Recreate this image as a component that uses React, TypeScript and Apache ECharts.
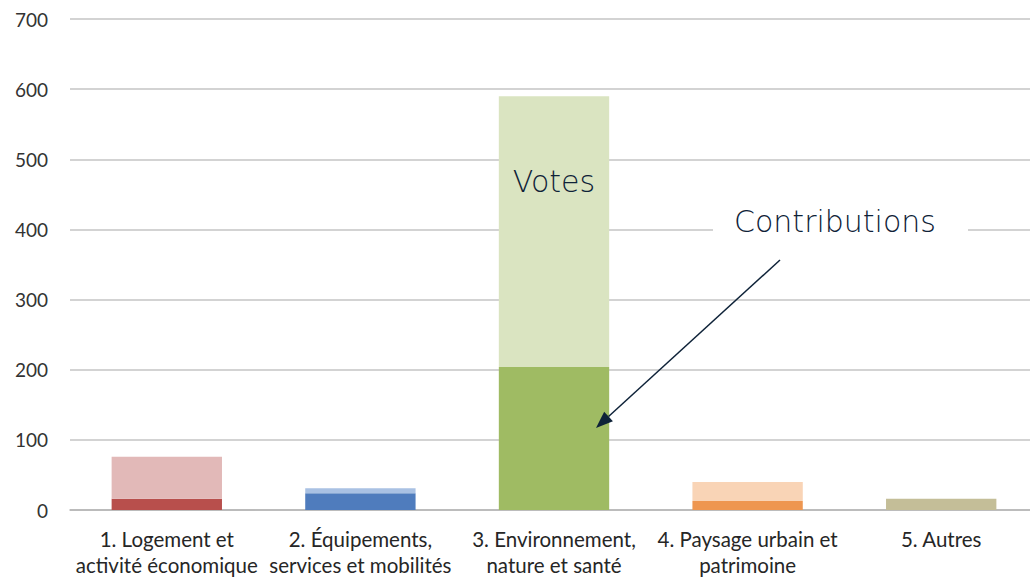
import React, { useEffect, useRef } from "react";
import * as echarts from "echarts";

const categories = [
  "1. Logement et\nactivité économique",
  "2. Équipements,\nservices et mobilités",
  "3. Environnement,\nnature et santé",
  "4. Paysage urbain et\npatrimoine",
  "5. Autres",
];
const contributions = [16, 24, 204, 13, 16];
const votes = [60, 7, 386, 27, 0];
const darkColors = ["#b84f4c", "#4f7cbd", "#9fbb63", "#ee9650", "#c4be98"];
const lightColors = ["#e2b9b8", "#a9c1e3", "#dae4c1", "#f9d4b6", "#e0ddc8"];
const yTicks = [0, 100, 200, 300, 400, 500, 600, 700];

export default function App() {
  const ref = useRef<HTMLDivElement>(null);
  useEffect(() => {
    if (!ref.current) return;
    const chart = echarts.init(ref.current, null, { renderer: "svg" });
    const tip = [596, 428];
    const from = [780, 260];
    const dx = tip[0] - from[0];
    const dy = tip[1] - from[1];
    const len = Math.sqrt(dx * dx + dy * dy);
    const ux = dx / len;
    const uy = dy / len;
    const hl = 17;
    const hw = 6.5;
    const bx = tip[0] - ux * hl;
    const by = tip[1] - uy * hl;
    const nx = -uy;
    const ny = ux;
    chart.setOption({
      animation: false,
      grid: {
        left: 70,
        width: 968,
        top: 19,
        height: 491,
        containLabel: false,
        outerBoundsMode: "none",
      },
      xAxis: {
        type: "category",
        data: categories,
        axisTick: { show: false },
        axisLine: { show: true, lineStyle: { color: "#b4b4b4", width: 1.5 } },
        axisLabel: {
          interval: 0,
          margin: 16,
          color: "#262626",
          fontFamily: "Lato",
          fontSize: 20.5,
          lineHeight: 26,
        },
      },
      yAxis: {
        type: "value",
        min: 0,
        max: 700,
        interval: 100,
        axisLine: { show: false },
        axisTick: { show: false },
        splitLine: { lineStyle: { color: "#c4c4c4", width: 1.5 } },
        axisLabel: {
          margin: 22,
          color: "#333333",
          fontFamily: "Lato",
          fontSize: 19,
          formatter: (v: number) => (yTicks.includes(v) ? String(v) : ""),
        },
      },
      series: [
        {
          name: "Contributions",
          type: "bar",
          stack: "total",
          barWidth: "57%",
          data: contributions.map((v, i) => ({ value: v, itemStyle: { color: darkColors[i] } })),
        },
        {
          name: "Votes",
          type: "bar",
          stack: "total",
          barWidth: "57%",
          data: votes.map((v, i) => ({ value: v, itemStyle: { color: lightColors[i] } })),
        },
      ],
      graphic: [
        {
          type: "text",
          z: 100,
          x: 554,
          y: 181,
          style: {
            text: "Votes",
            fill: "#0e2238",
            font: '300 30px "DejaVu Sans"',
            align: "center",
            verticalAlign: "middle",
          },
        },
        {
          type: "rect",
          z: 99,
          shape: { x: 713, y: 205, width: 255, height: 32 },
          style: { fill: "#ffffff" },
        },
        {
          type: "text",
          z: 100,
          x: 835,
          y: 221,
          style: {
            text: "Contributions",
            fill: "#0e2238",
            font: '300 30px "DejaVu Sans"',
            align: "center",
            verticalAlign: "middle",
          },
        },
        {
          type: "line",
          z: 100,
          shape: { x1: from[0], y1: from[1], x2: bx, y2: by },
          style: { stroke: "#0e2238", lineWidth: 1.5 },
        },
        {
          type: "polygon",
          z: 100,
          shape: {
            points: [
              [tip[0], tip[1]],
              [bx + nx * hw, by + ny * hw],
              [bx - nx * hw, by - ny * hw],
            ],
          },
          style: { fill: "#0e2238" },
        },
      ],
    });
    return () => chart.dispose();
  }, []);
  return (
    <div
      ref={ref}
      style={{ position: "fixed", left: 0, top: 0, width: 1030, height: 577, background: "#fff" }}
    />
  );
}
